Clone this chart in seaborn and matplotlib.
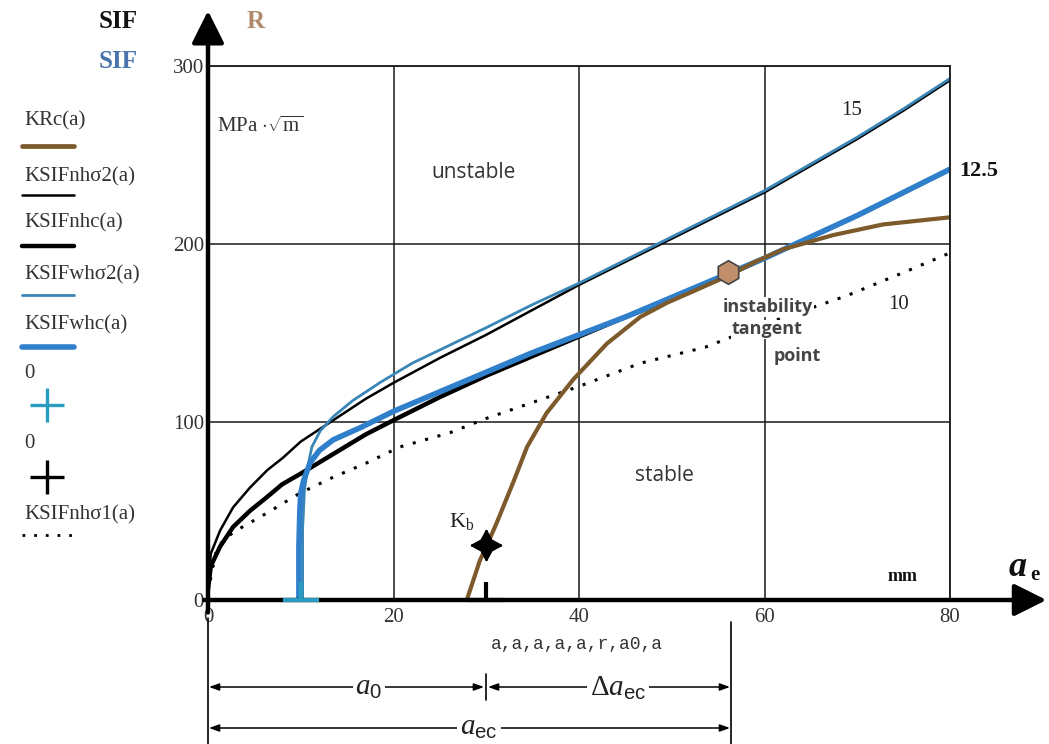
import matplotlib
matplotlib.use("Agg")
import matplotlib.pyplot as plt
from matplotlib.lines import Line2D
from matplotlib.path import Path
import seaborn as sns
import pandas as pd

# ---------------- data ----------------
# KRc(a): R-curve (brown)
krc_a = [27.9, 29.3, 30.0, 31.1, 32.9, 34.4, 36.5, 39.4, 43.0, 46.6, 49.5, 53.0, 56.0, 59.0, 62.0, 67.4, 72.8, 80.0]
krc_k = [0, 22, 30, 43, 66, 86, 105, 124, 144, 159, 167, 175, 182, 190, 197, 205, 211, 215]

# KSIFnhσ2(a): thin black (label 15)
nh2_a = [0, 0.3, 1.3, 2.7, 4.5, 6.4, 8.1, 10, 13.5, 17, 20, 25, 30, 35, 40, 45, 50, 55, 60, 65, 70, 75, 80]
nh2_k = [8, 26, 39, 52, 63, 73, 80, 89, 101, 113, 122, 136, 149, 163, 177, 190, 203, 216, 229, 244, 259, 275, 292]

# KSIFnhc(a): thick black (label 12.5)
nhc_a = [0, 0.3, 1.3, 2.7, 4.5, 6.4, 8, 10, 13.5, 17, 20, 25, 30, 35, 40, 45, 50, 55, 60, 65, 70, 75, 80]
nhc_k = [6, 19, 30, 41, 50, 58, 65, 71, 82, 93, 101, 114, 126, 137, 148, 159, 169, 180, 192, 204, 216, 229, 242]

# KSIFwhσ2(a): thin blue
wh2_a = [10.2, 10.2, 10.4, 10.8, 11.2, 12.1, 13.5, 15.6, 18.5, 22, 26, 30, 35, 40, 45, 50, 55, 60, 65, 70, 75, 80]
wh2_k = [0, 40, 62, 76, 86, 95, 103, 112, 122, 133, 143, 153, 166, 178, 191, 204, 217, 230, 245, 260, 276, 293]

# KSIFwhc(a): thick blue
whc_a = [9.8, 9.8, 9.9, 10.0, 10.3, 11, 12, 13.5, 16.5, 20, 25, 30, 35, 40, 45, 50, 55, 60, 65, 70, 75, 80]
whc_k = [0, 30, 50, 60, 67, 77, 84, 90, 97, 106, 117, 128, 139, 149, 159, 170, 181, 192, 204, 216, 229, 242]

# KSIFnhσ1(a): dotted (label 10)
nh1_a = [0, 0.5, 1, 2.7, 6.4, 9.9, 13.5, 17.1, 20.7, 26.1, 30, 35, 40, 46.6, 53.6, 60, 68.9, 75, 80]
nh1_k = [4, 18, 30, 38, 49, 60, 69, 77, 86, 94, 102, 111, 120, 133, 142, 155, 171, 184, 195]

# point markers
plus_teal = (10.0, 0.0)
plus_black = (30.0, 0.0)
kb_point = (30.0, 31.0)
tangent_point = (56.1, 184.0)

x_ticks = [0, 20, 40, 60, 80]
y_ticks = [0, 100, 200, 300]

legend_labels = ["KRc(a)", "KSIFnh\u03c32(a)", "KSIFnhc(a)", "KSIFwh\u03c32(a)", "KSIFwhc(a)", "0", "0", "KSIFnh\u03c31(a)"]

# ---------------- style ----------------
BROWN = "#7d5a2c"
BLUE_THIN = "#3a86b6"
BLUE_THICK = "#2f7fcb"
TEAL = "#2a9cc0"
SERIF = ["Liberation Serif", "DejaVu Serif"]
SANS = ["Open Sans", "DejaVu Sans"]

sns.set_style("white")
plt.rcParams["font.family"] = SERIF
plt.rcParams["mathtext.fontset"] = "custom"
plt.rcParams["mathtext.rm"] = "Liberation Serif"
plt.rcParams["mathtext.it"] = "Liberation Serif:italic"
plt.rcParams["mathtext.bf"] = "Liberation Serif:bold"
plt.rcParams["mathtext.sf"] = "Liberation Sans"

W, H = 1049, 744
fig = plt.figure(figsize=(W / 100, H / 100), dpi=100)
x0p, x1p, y0p, y1p = 208, 950, 600, 66
ax = fig.add_axes([x0p / W, 1 - y0p / H, (x1p - x0p) / W, (y0p - y1p) / H])
ax.set_xlim(0, 80)
ax.set_ylim(0, 300)

def line(xs, ys, **kw):
    df = pd.DataFrame({"a": xs, "K": ys})
    sns.lineplot(data=df, x="a", y="K", ax=ax, sort=False, estimator=None, legend=False, **kw)

line(nh1_a, nh1_k, color="black", lw=2.2, linestyle=(0, (1, 3.2)))
line(nh2_a, nh2_k, color="black", lw=1.8)
line(nhc_a, nhc_k, color="black", lw=3.2)
line(wh2_a, wh2_k, color=BLUE_THIN, lw=2.0)
line(whc_a, whc_k, color=BLUE_THICK, lw=4.0)
line(krc_a, krc_k, color=BROWN, lw=3.0)

# markers ("+" whose lower half is hidden below the axis -> inverted T)
half_plus = Path([(-1, 0), (1, 0), (0, 0), (0, 1)], [Path.MOVETO, Path.LINETO, Path.MOVETO, Path.LINETO])
ax.plot(*plus_teal, marker=half_plus, ms=26, mew=3.0, color=TEAL, zorder=12, clip_on=False)
ax.plot(*plus_black, marker=half_plus, ms=26, mew=3.0, color="black", zorder=12, clip_on=False)
ax.plot(*kb_point, marker=(4, 1, 0), ms=22, color="black", zorder=6)
ax.plot(*kb_point, marker="+", ms=22, mew=2.0, color="black", zorder=6)
ax.plot(*tangent_point, marker="h", ms=17, mfc="#c18e6c", mec="#444444", mew=1.2, zorder=7)

# grid / frame
ax.set_xticks(x_ticks)
ax.set_yticks(y_ticks)
ax.grid(True, color="#1a1a1a", lw=1.1)
ax.set_axisbelow(True)
for s in ("top", "right"):
    ax.spines[s].set_color("#1a1a1a")
    ax.spines[s].set_linewidth(1.3)
ax.spines["left"].set_visible(False)
ax.spines["bottom"].set_visible(False)
ax.tick_params(axis="both", length=0, labelsize=15, labelcolor="#333333")
ax.tick_params(axis="x", pad=6)
ax.tick_params(axis="y", pad=3)
ax.set_xlabel("")
ax.set_ylabel("")

# arrow axes
arrow_kw = dict(arrowstyle="-|>,head_length=0.9,head_width=0.45", lw=3.2, color="black",
                mutation_scale=22, shrinkA=0, shrinkB=0)
ax.annotate("", xy=(0, 331), xytext=(0, -7), arrowprops=arrow_kw, annotation_clip=False, zorder=10)
ax.annotate("", xy=(90.4, 0), xytext=(-0.4, 0), arrowprops=arrow_kw, annotation_clip=False, zorder=10)

# texts inside plot
ax.text(1.0, 266, r"MPa $\cdot\sqrt{\mathrm{m}}$", fontsize=15, color="#333333", va="center", ha="left")
ax.text(28.6, 240, "unstable", family=SANS, fontsize=15, color="#333333", ha="center", va="center")
ax.text(49.2, 70, "stable", family=SANS, fontsize=15, color="#333333", ha="center", va="center")
ax.text(69.4, 275, "15", fontsize=15, color="#222222", ha="center", va="center")
ax.text(81.0, 241, "12.5", fontsize=16, fontweight="bold", color="#111111", ha="left", va="center",
        clip_on=False)
ax.text(74.5, 166, "10", fontsize=15, color="#222222", ha="center", va="center")
ax.text(27.4, 44, r"K$_{\mathrm{b}}$", fontsize=16, color="#222222", ha="center", va="center")
ax.text(74.9, 13, "mm", fontsize=13, fontweight="bold", color="#111111", ha="center", va="center")
tp_kw = dict(family=SANS, fontsize=13, fontweight="bold", color="#444444", va="center",
             bbox=dict(fc="white", ec="none", pad=0.5))
ax.text(60.4, 164.5, "instability", ha="center", **tp_kw)
ax.text(60.3, 152, "tangent", ha="center", **tp_kw)
ax.text(61.0, 137, "point", ha="left", **tp_kw)

# figure-level texts (pixel positions converted)
def ftext(px, py, s, **kw):
    fig.text(px / W, 1 - py / H, s, **kw)

ftext(118, 22, "SIF", fontsize=18, fontweight="bold", color="#111111", ha="center", va="center")
ftext(118, 62, "SIF", fontsize=18, fontweight="bold", color="#4a74ad", ha="center", va="center")
ftext(256, 22, "R", fontsize=18, fontweight="bold", color="#b08a6a", ha="center", va="center")
ftext(1018, 567, "a", fontsize=26, fontweight="bold", style="italic", color="#111111", ha="center", va="center")
ftext(1035, 575, "e", fontsize=15, fontweight="bold", color="#111111", ha="center", va="center")
ftext(577, 645, "a,a,a,a,a,r,a0,a", family=["Liberation Mono", "DejaVu Sans Mono"], fontsize=13,
      color="#333333", ha="center", va="center")

# legend on the left
leg_text_y = [121, 177, 223, 275, 325, 373, 443, 515]
for lab, yy in zip(legend_labels, leg_text_y):
    ftext(24, yy, lab, fontsize=15, color="#333333", ha="left", va="center")

def fline(x0, x1, y, **kw):
    fig.add_artist(Line2D([x0 / W, x1 / W], [1 - y / H, 1 - y / H], transform=fig.transFigure, **kw))

fline(22, 74, 146, color=BROWN, lw=3.4)
fline(22, 74, 195, color="black", lw=1.8)
fline(22, 74, 246, color="black", lw=3.2)
fline(22, 74, 295, color=BLUE_THIN, lw=2.0)
fline(22, 74, 347, color=BLUE_THICK, lw=4.0)
fline(22, 72, 535, color="black", lw=2.0, linestyle=(0, (1, 3.2)))
fig.add_artist(Line2D([47 / W], [1 - 405 / H], marker="+", ms=24, mew=2.4, color=TEAL, transform=fig.transFigure))
fig.add_artist(Line2D([47 / W], [1 - 477 / H], marker="+", ms=24, mew=2.4, color="black", transform=fig.transFigure))

# dimension lines below the axis
ext_kw = dict(color="black", lw=1.2)
def fline_v(x, y0, y1):
    fig.add_artist(Line2D([x / W, x / W], [1 - y0 / H, 1 - y1 / H], transform=fig.transFigure, **ext_kw))
fline_v(208, 618, 744)
fline_v(731, 622, 744)
fline_v(486, 674, 700)

dim_kw = dict(arrowstyle="<|-|>,head_length=0.5,head_width=0.18", lw=1.1, color="black",
              mutation_scale=12, shrinkA=0, shrinkB=0)
def dim(x0, x1, y):
    fig.add_artist(matplotlib.patches.FancyArrowPatch((x0 / W, 1 - y / H), (x1 / W, 1 - y / H),
                                                      transform=fig.transFigure, **dim_kw))
dim(209, 484, 687)
dim(488, 730, 687)
dim(209, 730, 728)

lab_kw = dict(fontsize=21, color="#222222", ha="center", va="center",
              bbox=dict(fc="white", ec="none", pad=2))
ftext(369, 688, r"$a_{\mathsf{0}}$", **lab_kw)
ftext(618, 688, r"$\Delta a_{\mathsf{ec}}$", **lab_kw)
ftext(479, 728, r"$a_{\mathsf{ec}}$", **lab_kw)

fig.savefig("out.png", dpi=100, facecolor="white")
